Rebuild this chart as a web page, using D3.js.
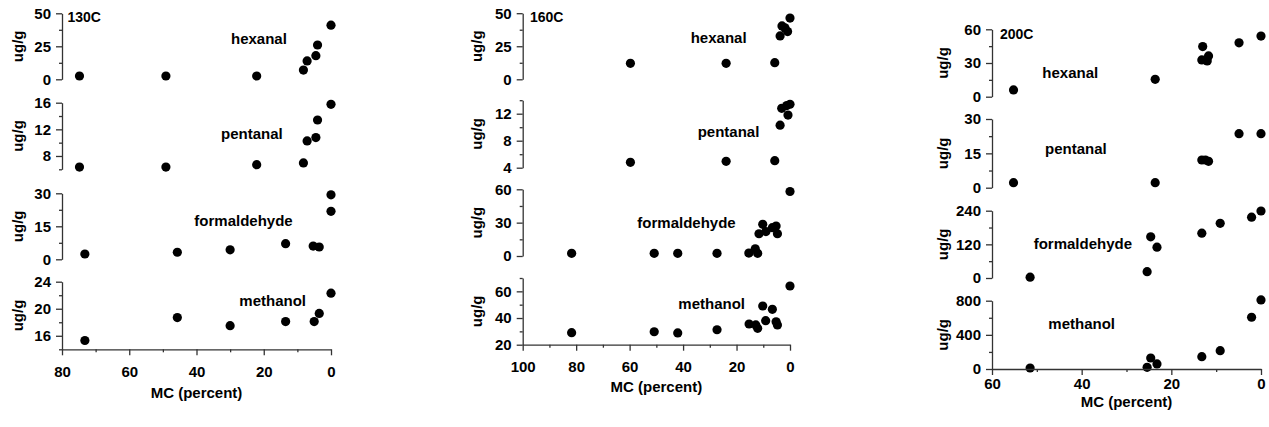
<!DOCTYPE html>
<html>
<head>
<meta charset="utf-8">
<script src="https://cdn.jsdelivr.net/npm/d3@7/dist/d3.min.js"></script>
<style>
  html, body { margin: 0; padding: 0; background: #fff; }
  svg { display: block; }
  text { font-family: 'Liberation Sans', Arial, sans-serif; font-weight: bold; fill: #000; }
</style>
</head>
<body>
<script>
// ---------------- DATA ----------------
const compounds = ["hexanal", "pentanal", "formaldehyde", "methanol"];
const temperatures = ["130C", "160C", "200C"];
const xAxisTitle = "MC (percent)";
const yAxisTitle = "ug/g";

// 130C
const mc130Hexanal = [74.8, 49.1, 22.1, 8.2, 7.1, 4.5, 4.0, 0];
const ug130Hexanal = [2.5, 2.5, 2.5, 7.0, 13.9, 17.9, 26, 41];
const mc130Pentanal = [74.8, 49.1, 22.1, 8.2, 7.1, 4.5, 4.0, 0];
const ug130Pentanal = [6.34, 6.34, 6.7, 6.95, 10.26, 10.77, 13.4, 15.75];
const mc130Formaldehyde = [73.2, 45.7, 30, 13.5, 5.3, 3.5, 0, 0];
const ug130Formaldehyde = [2.4, 3.2, 4.3, 7.1, 6.0, 5.6, 21.8, 29.3];
const mc130Methanol = [73.2, 45.7, 30, 13.5, 5.0, 3.5, 0];
const ug130Methanol = [15.3, 18.7, 17.5, 18.1, 18.1, 19.3, 22.3];

// 160C
const mc160Hexanal = [59.7, 23.9, 5.7, 3.7, 3.0, 1.9, 0.9, 0];
const ug160Hexanal = [12.1, 12.1, 12.6, 32.8, 40.4, 38.9, 36.1, 46.3];
const mc160Pentanal = [59.7, 23.9, 5.7, 3.7, 3.1, 1.2, 0.75, 0];
const ug160Pentanal = [4.8, 4.95, 5.04, 10.3, 12.8, 13.2, 11.8, 13.4];
const mc160Formaldehyde = [81.7, 50.8, 42, 27.3, 15.4, 13.0, 12.1, 11.6, 10.2, 9.0, 6.6, 5.2, 4.7, 0];
const ug160Formaldehyde = [2.4, 2.4, 2.4, 2.4, 2.6, 6.5, 2.4, 20.0, 28.5, 22.0, 25.5, 27.0, 20.0, 58];
const mc160Methanol = [81.7, 50.8, 42, 27.3, 15.3, 12.8, 12.1, 10.2, 9.1, 6.6, 5.2, 4.7, 0];
const ug160Methanol = [29, 29.7, 28.8, 31.2, 35.5, 34.8, 32.3, 49, 38, 46.5, 37.2, 34.8, 64];

// 200C
const mc200Hexanal = [55.2, 23.6, 13, 13.2, 12, 11.7, 4.9, 0];
const ug200Hexanal = [6, 15.5, 44.6, 32.7, 31.8, 36.3, 48, 54];
const mc200Pentanal = [55.2, 23.6, 13.2, 12.4, 11.7, 4.9, 0];
const ug200Pentanal = [2.2, 2.2, 12.1, 12.1, 11.5, 23.6, 23.6];
const mc200Formaldehyde = [51.5, 25.4, 24.6, 23.2, 13.2, 9.1, 2.1, 0];
const ug200Formaldehyde = [3, 22.5, 147, 110, 160, 195, 217, 239];
const mc200Methanol = [51.5, 25.4, 24.6, 23.2, 13.2, 9.1, 2.1, 0];
const ug200Methanol = [12, 20, 129, 59, 144, 215, 606, 809];

// axis domains and ticks
const x130Domain = [80, 0], x130Major = [80, 60, 40, 20, 0], x130Minor = [70, 50, 30, 10];
const x160Domain = [100, 0], x160Major = [100, 80, 60, 40, 20, 0], x160Minor = [90, 70, 50, 30, 10];
const x200Domain = [60, 0], x200Major = [60, 40, 20, 0], x200Minor = [50, 30, 10];

const y130Domains = [[0, 50], [6, 16], [0, 30], [14, 24]];
const y130Major = [[0, 25, 50], [8, 12, 16], [0, 15, 30], [16, 20, 24]];
const y130Minor = [[12.5, 37.5], [6, 10, 14], [7.5, 22.5], [14, 18, 22]];

const y160Domains = [[0, 50], [4, 14], [0, 60], [20, 70]];
const y160Major = [[0, 25, 50], [4, 8, 12], [0, 30, 60], [20, 40, 60]];
const y160Minor = [[12.5, 37.5], [6, 10, 14], [15, 45], [30, 50, 70]];

const y200Domains = [[0, 60], [0, 30], [0, 240], [0, 800]];
const y200Major = [[0, 30, 60], [0, 15, 30], [0, 120, 240], [0, 400, 800]];
const y200Minor = [[15, 45], [7.5, 22.5], [60, 180], [200, 600]];

// ---------------- LAYOUT ----------------
const panels = [
  {
    temp: temperatures[0], xDomain: x130Domain, xMajor: x130Major, xMinor: x130Minor,
    xRange: [62, 331], yLabX: 18, tempPos: [67.5, 22], tickLabY: 377, titleY: 397.5,
    yDomains: y130Domains, yMajor: y130Major, yMinor: y130Minor,
    yRanges: [[79.3, 13.3], [169.3, 102.7], [259.3, 193.3], [349.3, 281.7]],
    labPos: [[231, 44], [221, 139.3], [194.3, 225.7], [239.3, 305.7]],
    xs: [mc130Hexanal, mc130Pentanal, mc130Formaldehyde, mc130Methanol],
    ys: [ug130Hexanal, ug130Pentanal, ug130Formaldehyde, ug130Methanol]
  },
  {
    temp: temperatures[1], xDomain: x160Domain, xMajor: x160Major, xMinor: x160Minor,
    xRange: [522.7, 790], yLabX: 477, tempPos: [530, 22], tickLabY: 372, titleY: 392,
    yDomains: y160Domains, yMajor: y160Major, yMinor: y160Minor,
    yRanges: [[79.3, 13.2], [167.7, 100.2], [256, 189.3], [344.7, 278]],
    labPos: [[690.7, 43.3], [697.7, 136.7], [637.3, 228.3], [678.3, 309]],
    xs: [mc160Hexanal, mc160Pentanal, mc160Formaldehyde, mc160Methanol],
    ys: [ug160Hexanal, ug160Pentanal, ug160Formaldehyde, ug160Methanol]
  },
  {
    temp: temperatures[2], xDomain: x200Domain, xMajor: x200Major, xMinor: x200Minor,
    xRange: [992, 1261], yLabX: 943, tempPos: [1000, 39], tickLabY: 389, titleY: 406.5,
    yDomains: y200Domains, yMajor: y200Major, yMinor: y200Minor,
    yRanges: [[96.7, 29.3], [187.7, 119], [278, 210.7], [369, 300.7]],
    labPos: [[1042.3, 77.7], [1045, 154], [1033.7, 249], [1048.3, 329]],
    xs: [mc200Hexanal, mc200Pentanal, mc200Formaldehyde, mc200Methanol],
    ys: [ug200Hexanal, ug200Pentanal, ug200Formaldehyde, ug200Methanol]
  }
];

const AX = "#333";
const svg = d3.select("body").append("svg").attr("width", 1269).attr("height", 427);

function styleAxis(g, fs) {
  g.selectAll("path, line").attr("stroke", AX).attr("stroke-width", 1.3);
  g.selectAll("text").attr("fill", "#000").style("font-size", fs + "px")
    .style("font-weight", "bold").attr("font-family", "'Liberation Sans', Arial, sans-serif");
}

panels.forEach(p => {
  const x = d3.scaleLinear().domain(p.xDomain).range(p.xRange);
  compounds.forEach((name, i) => {
    const y = d3.scaleLinear().domain(p.yDomains[i]).range(p.yRanges[i]);
    const gMin = svg.append("g").attr("transform", `translate(${p.xRange[0]},0)`)
      .call(d3.axisLeft(y).tickValues(p.yMinor[i]).tickSize(3).tickFormat(""));
    gMin.select(".domain").remove();
    styleAxis(gMin, 15);
    const gMaj = svg.append("g").attr("transform", `translate(${p.xRange[0]},0)`)
      .call(d3.axisLeft(y).tickValues(p.yMajor[i]).tickSize(6).tickSizeOuter(0).tickPadding(5));
    styleAxis(gMaj, 15);

    const yc = (p.yRanges[i][0] + p.yRanges[i][1]) / 2;
    svg.append("text")
      .attr("transform", `translate(${p.yLabX},${yc}) rotate(-90)`)
      .attr("text-anchor", "middle").attr("dy", "0.35em")
      .style("font-size", "15px").text(yAxisTitle);

    svg.append("text").attr("x", p.labPos[i][0]).attr("y", p.labPos[i][1])
      .style("font-size", "15px").text(name);

    const pts = p.xs[i].map((v, k) => [v, p.ys[i][k]]);
    svg.append("g").selectAll("circle").data(pts).join("circle")
      .attr("cx", d => x(d[0])).attr("cy", d => y(d[1])).attr("r", 4.6).attr("fill", "#000");
  });

  const yBottom = p.yRanges[3][0];
  const gxMin = svg.append("g").attr("transform", `translate(0,${yBottom})`)
    .call(d3.axisBottom(x).tickValues(p.xMinor).tickSize(3).tickFormat(""));
  gxMin.select(".domain").remove();
  styleAxis(gxMin, 15);
  const gxMaj = svg.append("g").attr("transform", `translate(0,${yBottom})`)
    .call(d3.axisBottom(x).tickValues(p.xMajor).tickSize(6).tickSizeOuter(0).tickPadding(4));
  styleAxis(gxMaj, 15);
  gxMaj.selectAll(".tick text").attr("y", null).attr("dy", null)
    .attr("y", p.tickLabY - yBottom);

  svg.append("text").attr("x", (p.xRange[0] + p.xRange[1]) / 2).attr("y", p.titleY)
    .attr("text-anchor", "middle").style("font-size", "15px").text(xAxisTitle);

  svg.append("text").attr("x", p.tempPos[0]).attr("y", p.tempPos[1])
    .style("font-size", "14px").text(p.temp);
});
</script>
</body>
</html>
